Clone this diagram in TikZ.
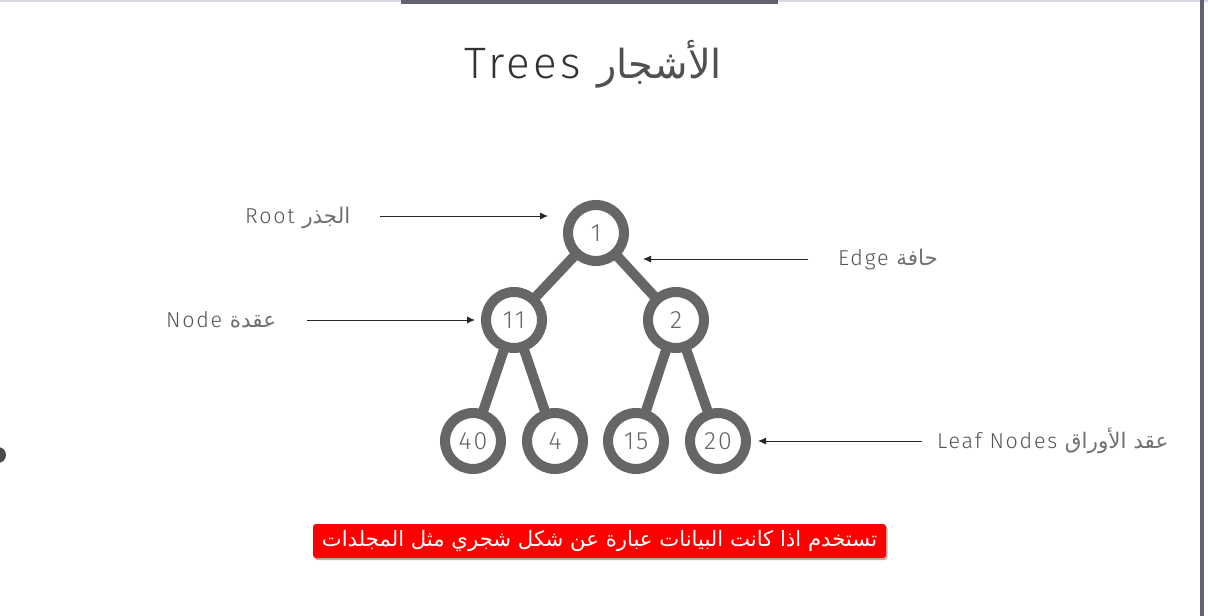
\documentclass[tikz,border=0pt]{standalone}
\usepackage{fontspec}
\setmainfont{Fira Sans}[UprightFont=* Light, LetterSpace=8]
\newfontfamily\arabicfont[Script=Arabic]{DejaVu Sans}
\TeXXeTstate=1
\usetikzlibrary{arrows.meta,shadows,backgrounds}
\definecolor{ringgray}{HTML}{666666}
\definecolor{labelgray}{HTML}{555555}
\definecolor{arablabel}{HTML}{707070}
\definecolor{titlegray}{HTML}{333333}
\definecolor{arabtitle}{HTML}{505050}
\definecolor{barcol}{HTML}{60626F}
\definecolor{toplinecol}{HTML}{D8D9E3}
\definecolor{dotcol}{HTML}{4A4A4A}
\definecolor{notered}{HTML}{FF0000}
\newcommand{\arlbl}[1]{{\arabicfont\color{arablabel}\beginR #1\endR}}
\tikzset{
  ring/.style={circle, draw=ringgray, line width=10pt, fill=white, minimum size=56pt, inner sep=0pt,
    text=ringgray, font=\fontsize{25}{25}\selectfont},
  treeedge/.style={draw=ringgray, line width=10pt},
  lbl/.style={anchor=west, inner sep=0pt, text=labelgray, font=\fontsize{21.5}{21.5}\selectfont},
  ptr/.style={draw=black!85, line width=0.9pt, -{Latex[length=8pt,width=7pt]}},
  redbox/.style={fill=notered, rounded corners=3pt, minimum width=573pt, minimum height=34pt, inner sep=0pt,
    text=white, font=\arabicfont\fontsize{21.2}{21}\selectfont,
    drop shadow={opacity=0.3, shadow xshift=1.5pt, shadow yshift=-2pt, fill=black}}
}
\begin{document}
\begin{tikzpicture}[x=1pt,y=-1pt]
\useasboundingbox (0,0) rectangle (1208,616);
\begin{scope}[on background layer]
  \fill[white] (0,0) rectangle (1208,616);
  \fill[toplinecol] (0,0) rectangle (1208,1.5);
  \fill[barcol] (401,0) rectangle (778,3.5);
  \fill[barcol] (1199.5,0) rectangle (1203.5,616);
  \fill[dotcol] (-2,455) circle (8);
\end{scope}

% title
\node[inner sep=0pt, text=titlegray, font=\fontsize{44}{44}\selectfont] (title) at (593,64)
  {Trees {\arabicfont\color{arabtitle}\fontsize{40}{40}\selectfont\beginR الأشجار\endR}};

% tree nodes
\node[ring] (r) at (596,233) {1};
\node[ring] (a) at (514,320) {11};
\node[ring] (b) at (676,320) {2};
\node[ring] (l1) at (473,441) {40};
\node[ring] (l2) at (555,441) {4};
\node[ring] (l3) at (636,441) {15};
\node[ring] (l4) at (718,441) {20};

\begin{scope}[on background layer]
  \draw[treeedge] (r.center) -- (a.center);
  \draw[treeedge] (r.center) -- (b.center);
  \draw[treeedge] (a.center) -- (l1.center);
  \draw[treeedge] (a.center) -- (l2.center);
  \draw[treeedge] (b.center) -- (l3.center);
  \draw[treeedge] (b.center) -- (l4.center);
\end{scope}

% labels
\node[lbl] (rootlbl) at (245,218) {Root \arlbl{الجذر}};
\node[lbl] (nodelbl) at (166,320) {Node \arlbl{عقدة}};
\node[lbl] (edgelbl) at (838,260) {Edge \arlbl{حافة}};
\node[lbl] (leaflbl) at (937,441) {Leaf Nodes \arlbl{عقد الأوراق}};

\coordinate (rootA) at (380,216);
\coordinate (rootB) at (548,216);
\coordinate (nodeA) at (307,320);
\coordinate (nodeB) at (475,320);
\coordinate (edgeA) at (808,259);
\coordinate (edgeB) at (643,259);
\coordinate (leafA) at (922,441);
\coordinate (leafB) at (758,441);
\draw[ptr] (rootA) -- (rootB);
\draw[ptr] (nodeA) -- (nodeB);
\draw[ptr] (edgeA) -- (edgeB);
\draw[ptr] (leafA) -- (leafB);

% note
\node[redbox] (note) at (599.5,541) {\beginR تستخدم اذا كانت البيانات عبارة عن شكل شجري مثل المجلدات\endR};
\end{tikzpicture}
\end{document}
